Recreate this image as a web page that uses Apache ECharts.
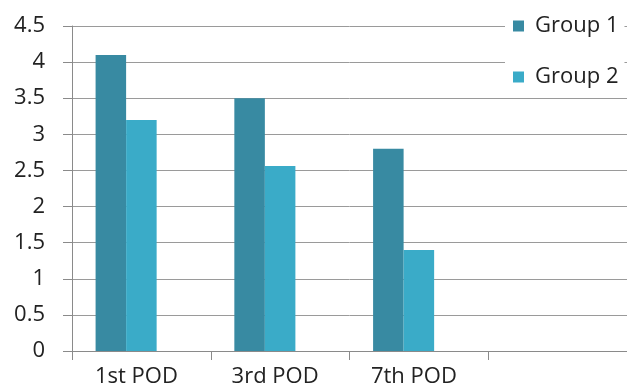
<!DOCTYPE html>
<html><head><meta charset="utf-8">
<script src="https://cdn.jsdelivr.net/npm/echarts@6/dist/echarts.min.js"></script>
<style>html,body{margin:0;padding:0;background:#fff}#c{width:627px;height:388px}</style>
</head><body><div id="c"></div>
<script>
const categories = ['1st POD', '3rd POD', '7th POD', ''];
const group1 = [4.1, 3.5, 2.8, null];
const group2 = [3.2, 2.56, 1.4, null];
const group3 = [null, null, null, null];
const yTicks = { min: 0, max: 4.5, interval: 0.5 };

const font = '"Open Sans", "Noto Sans", sans-serif';
const chart = echarts.init(document.getElementById('c'));
chart.setOption({
  animation: false,
  backgroundColor: '#fff',
  grid: { left: 72, right: 0, top: 26, bottom: 35, containLabel: false },
  legend: {
    orient: 'vertical', left: 505, top: 9,
    data: ['Group 1', 'Group 2'],
    backgroundColor: '#fff',
    padding: [6, 6, 8, 8],
    itemWidth: 11, itemHeight: 11, itemGap: 29,
    icon: 'rect',
    textStyle: { fontFamily: font, fontSize: 22, color: '#222', padding: [0, 0, 0, 6] }
  },
  xAxis: {
    type: 'category', data: categories,
    axisLine: { lineStyle: { color: '#8a8a8a', width: 1 } },
    axisTick: { show: true, length: 9, lineStyle: { color: '#8a8a8a' } },
    axisLabel: { fontFamily: font, fontSize: 22, color: '#222', margin: 15, padding: [0, 10, 0, 0] }
  },
  yAxis: {
    type: 'value', min: yTicks.min, max: yTicks.max, interval: yTicks.interval,
    axisLine: { show: true, lineStyle: { color: '#8a8a8a' } },
    axisTick: { show: true, length: 9, lineStyle: { color: '#8a8a8a' } },
    splitLine: { lineStyle: { color: '#9a9a9a', width: 1 } },
    axisLabel: { fontFamily: font, fontSize: 22, color: '#222', margin: 27 }
  },
  series: [
    { name: 'Group 1', type: 'bar', data: group1, barGap: '0%', barCategoryGap: '34%', itemStyle: { color: '#388aa2' } },
    { name: 'Group 2', type: 'bar', data: group2, itemStyle: { color: '#3aabc8' } },
    { name: 'Group 3', type: 'bar', data: group3, itemStyle: { color: '#ffffff' } }
  ]
});
</script></body></html>
